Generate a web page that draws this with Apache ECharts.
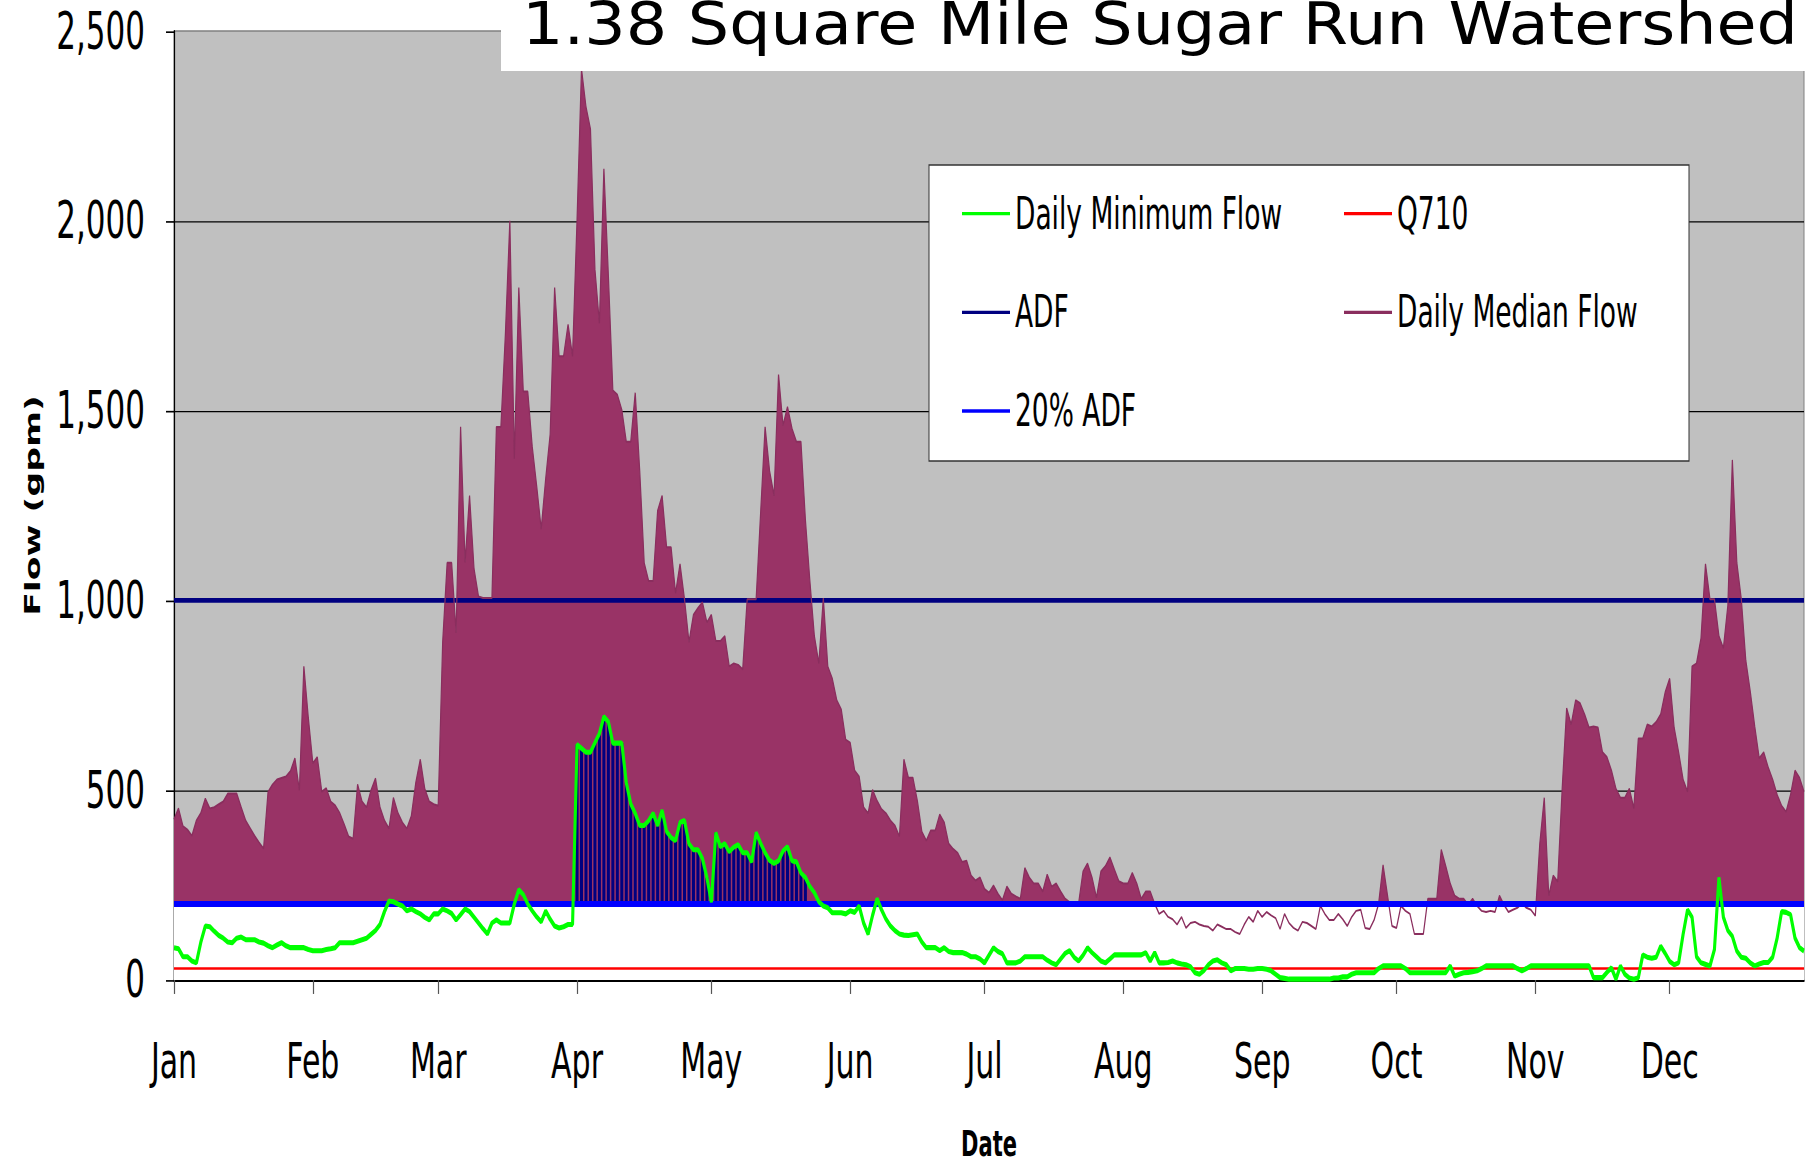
<!DOCTYPE html>
<html><head><meta charset="utf-8">
<script src="https://cdn.jsdelivr.net/npm/echarts@6/dist/echarts.min.js"></script>
<style>
html{margin:0;padding:0;background:#fff;overflow:hidden;width:1818px;height:1165px;}
body{margin:0;padding:0;background:#fff;width:1818px;height:1165px;}
#chart{width:1818px;height:706px;transform:scaleY(1.65);transform-origin:0 0;}
</style></head><body><div id="chart"></div>
<script>
// ---- data ----
const titleText = '1.38 Square Mile Sugar Run Watershed';
const monthNames = ['Jan','Feb','Mar','Apr','May','Jun','Jul','Aug','Sep','Oct','Nov','Dec'];
const monthLengths = [31,28,31,30,31,30,31,31,30,31,30,31];
const yTickValues = [0, 500, 1000, 1500, 2000, 2500];

// daily median flow (gpm), Jan 1 .. Dec 31
const medianFlow = [
 423,452,405,396,380,420,440,478,452,455,
 463,470,491,491,491,455,420,400,380,362,
 346,495,515,528,532,536,550,584,500,826,
 690,571,587,496,505,470,460,440,410,378,
 372,515,470,455,500,531,455,420,399,480,
 440,415,399,432,520,581,504,470,463,459,
 890,1099,1099,914,1457,1100,1276,1083,1010,1006,
 1006,1006,1457,1457,1700,2000,1373,1824,1550,1550,
 1405,1300,1188,1320,1437,1824,1643,1643,1727,1643,
 2000,2400,2300,2242,1872,1730,2137,1856,1553,1542,
 1502,1418,1418,1547,1341,1099,1051,1051,1236,1276,
 1140,1140,1019,1096,1003,890,962,980,995,942,
 962,893,893,906,826,834,830,818,1003,1003,
 1003,1230,1457,1341,1276,1595,1461,1510,1453,1418,
 1418,1212,1051,906,834,1006,826,794,737,713,
 633,625,552,536,455,439,501,472,450,439,
 420,407,378,581,533,533,472,391,367,394,
 394,436,415,359,345,335,311,314,275,262,
 270,240,230,249,227,210,246,227,220,214,
 295,270,254,254,233,278,246,254,233,214,
 205,195,201,286,307,270,217,286,300,323,
 291,260,254,254,282,254,214,233,233,201,
 174,182,166,160,146,166,137,150,153,146,
 142,140,130,146,140,134,134,126,121,146,
 166,153,182,166,179,170,163,134,174,150,
 137,130,153,150,142,134,195,174,158,158,
 174,160,142,166,182,185,137,134,158,200,
 303,222,142,137,195,182,174,121,121,121,
 214,214,214,343,300,254,222,214,214,198,
 214,195,182,179,182,179,222,198,179,185,
 190,201,190,185,169,359,480,222,275,259,
 504,716,673,737,729,700,665,668,665,600,
 587,552,504,480,480,504,452,636,636,673,
 668,680,700,758,794,665,600,528,496,826,
 834,900,1096,1003,1003,906,874,987,1370,1099,
 1003,842,760,668,584,600,560,528,488,459,
 443,488,552,533,496
];

// daily minimum flow (gpm), Jan 1 .. Dec 31
const minFlow = [
 85,82,61,61,50,45,100,142,140,128,
 117,110,100,98,110,113,106,106,106,100,
 97,90,85,92,98,90,85,85,85,85,
 80,77,77,77,80,82,85,98,98,98,
 98,102,106,110,120,130,146,180,208,206,
 200,195,182,187,180,174,165,158,174,174,
 187,182,175,158,172,187,180,165,150,135,
 121,150,158,150,150,150,200,238,225,200,
 182,166,153,182,160,142,137,140,146,146,
 620,610,600,600,625,649,694,680,624,624,
 624,520,464,439,407,407,420,439,407,447,
 391,375,367,415,420,359,343,343,320,270,
 205,388,351,359,338,350,356,335,335,311,
 388,360,335,315,307,314,340,351,314,311,
 282,270,246,230,206,195,190,177,177,177,
 174,182,178,195,150,121,170,214,185,160,
 142,130,121,118,117,119,121,100,85,85,
 85,77,85,75,72,72,72,68,61,61,
 55,45,65,85,75,69,45,45,45,50,
 61,61,61,61,61,52,45,40,55,70,
 77,60,50,65,85,72,61,50,45,55,
 66,66,66,66,66,66,66,72,50,72,
 45,45,46,50,45,42,40,35,19,15,
 25,40,50,53,45,40,24,30,30,30,
 28,28,30,30,28,24,15,6,4,2,
 2,2,2,2,2,2,2,2,2,5,
 5,8,8,15,19,19,19,19,19,30,
 37,37,37,37,37,30,19,19,19,19,
 19,19,19,19,19,37,10,15,19,20,
 22,24,30,37,37,37,37,37,37,37,
 30,24,30,37,37,37,37,37,37,37,
 37,37,37,37,37,37,37,6,6,6,
 20,32,2,37,15,5,2,6,66,60,
 57,60,89,70,49,40,45,120,185,165,
 61,45,41,37,80,270,165,130,115,76,
 60,57,45,37,42,46,46,60,110,180,
 178,172,110,85,76
];

const ADF = 1000;
const ADF20 = 200;
const Q710 = 30;
const hatchFirstDay = 'Apr 1';
const hatchLastDay = 'May 22';

// ---- build ----
const days = [];
monthNames.forEach((m, i) => { for (let d = 1; d <= monthLengths[i]; d++) days.push(m + ' ' + d); });
const isMonthStart = (idx) => /\s1$/.test(days[idx]);
const hFrom = days.indexOf(hatchFirstDay), hTo = days.indexOf(hatchLastDay);
const hatchData = minFlow.map((v, i) => (i >= hFrom && i <= hTo) ? v : '-');
const adfData = days.map(() => ADF);
const adf20Data = days.map(() => ADF20);
const q710Data = days.map(() => Q710);

const S = 1.65; // vertical stretch of the whole picture
const FONT = '"DejaVu Sans", Verdana, sans-serif';
const chart = echarts.init(document.getElementById('chart'), null, {renderer: 'svg'});
const legendText = {fontFamily: FONT, fontSize: 26.5, color: '#000', lineHeight: 26};
const legendCommon = {orient: 'vertical', top: 116, itemWidth: 48, itemHeight: 26, itemGap: 32.8,
  padding: 0, selectedMode: false, z: 20, textStyle: legendText,
  itemStyle: {opacity: 0, borderWidth: 0}};
function lineSeries(name, data, color, width) {
  return {name, type: 'line', z: 5, data, symbol: 'none', silent: true,
          itemStyle: {color}, lineStyle: {color, width}};
}
chart.setOption({
  animation: false,
  backgroundColor: '#ffffff',
  grid: {left: 174, right: 14, top: 18.8, bottom: 112.1, show: true,
         backgroundColor: '#C0C0C0', borderColor: '#808080', borderWidth: 1,
         containLabel: false, outerBoundsMode: 'none'},
  xAxis: {
    type: 'category', data: days, boundaryGap: false,
    axisLine: {lineStyle: {color: '#000', width: 1.3}},
    axisTick: {interval: (i) => isMonthStart(i), length: 8.5, lineStyle: {color: '#555', width: 1.2}},
    axisLabel: {interval: (i) => isMonthStart(i), formatter: (v) => v.split(' ')[0],
                fontFamily: FONT, fontSize: 30, color: '#000', margin: 34},
    splitLine: {show: false},
    name: 'Date', nameLocation: 'middle', nameGap: 89,
    nameTextStyle: {fontFamily: FONT, fontSize: 21, fontWeight: 'bold', color: '#000'}
  },
  yAxis: {
    type: 'value', min: yTickValues[0], max: yTickValues[yTickValues.length - 1], interval: 500,
    axisLine: {show: true, lineStyle: {color: '#000', width: 1.2}},
    axisTick: {show: true, length: 8, lineStyle: {color: '#000', width: 1}},
    axisLabel: {fontFamily: FONT, fontSize: 31, color: '#000', margin: 29,
                formatter: (v) => v.toLocaleString('en-US')},
    splitLine: {show: true, showMinLine: false, showMaxLine: false, lineStyle: {color: '#000', width: 0.7}},
    name: 'Flow (gpm)', nameLocation: 'middle', nameRotate: 90, nameGap: 131,
    nameTextStyle: {fontFamily: FONT, fontSize: 21, fontWeight: 'bold', color: '#000'}
  },
  legend: [
    Object.assign({data: ['Daily Minimum Flow', 'ADF', '20% ADF'], left: 961}, legendCommon),
    Object.assign({data: ['Q710', 'Daily Median Flow'], left: 1343}, legendCommon)
  ],
  graphic: [
    {type: 'rect', z: 10, shape: {x: 501, y: 0, width: 1305, height: 43}, style: {fill: '#fff'}},
    {type: 'text', z: 11, x: 522, y: 14.6, scaleX: 1.105, scaleY: 1 / S,
     style: {text: titleText, fontFamily: FONT, fontSize: 59, fill: '#000', align: 'left', verticalAlign: 'middle'}},
    {type: 'rect', z: 10, shape: {x: 929, y: 100, width: 760, height: 179.4},
     style: {fill: '#fff', stroke: '#333', lineWidth: 1}}
  ],
  series: [
    {name: 'Median area', type: 'line', z: 3, data: medianFlow, symbol: 'none', silent: true,
     itemStyle: {color: '#993366'}, lineStyle: {width: 0}, areaStyle: {color: '#993366', opacity: 1}},
    {name: 'Hatch', type: 'bar', z: 3, data: hatchData, barWidth: 3, silent: true,
     itemStyle: {color: '#000080'}},
    {name: 'Band', type: 'line', z: 4, data: adf20Data, symbol: 'none', silent: true,
     itemStyle: {color: '#fff'}, lineStyle: {width: 0}, areaStyle: {color: '#FFFFFF', opacity: 1}},
    lineSeries('ADF', adfData, '#000080', 2.8),
    lineSeries('Daily Median Flow', medianFlow, '#8A2E5E', 1.2),
    lineSeries('20% ADF', adf20Data, '#0000FF', 3.6),
    lineSeries('Q710', q710Data, '#FF0000', 1.5),
    lineSeries('Daily Minimum Flow', minFlow, '#00FF00', 3.1)
  ]
});
</script></body></html>
